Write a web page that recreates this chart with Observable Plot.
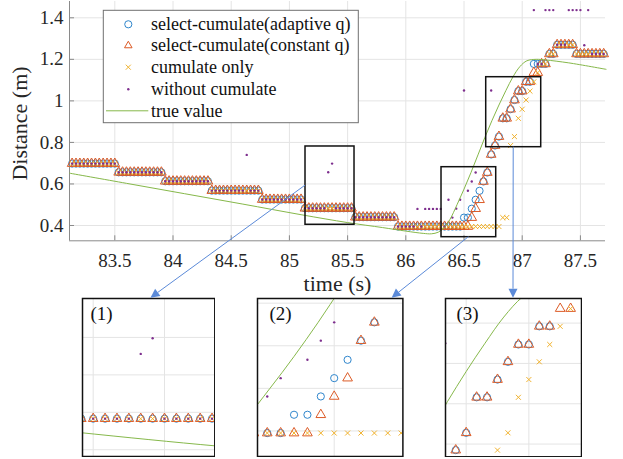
<!DOCTYPE html>
<html><head><meta charset="utf-8">
<script src="https://cdn.jsdelivr.net/npm/d3@7"></script>
<script src="https://cdn.jsdelivr.net/npm/@observablehq/plot@0.6"></script>
<style>
body{margin:0;background:#fff;}
#fig{position:relative;width:623px;height:459px;overflow:hidden;background:#fff;}
#fig svg{position:absolute;}
</style></head><body><div id="fig"></div>
<script>
// ---------------- data ----------------
const startTime = 83.1333;   // time of the first sample (s)
const sampleRate = 30;       // samples per second
// run-length lists: [distance (m), number of consecutive samples]
const adaptiveRuns = [
  [0.698,12],[0.656,12],[0.613,12],[0.568,13],[0.525,11],[0.483,13],[0.44,11],[0.395,17],
  [0.438,2],[0.481,1],[0.524,1],[0.567,1],[0.612,1],[0.655,1],[0.742,1],[0.785,1],[0.828,1],
  [0.916,2],[0.96,1],[1.004,1],[1.047,2],[1.092,2],[1.178,4],[1.226,2],[1.27,5],[1.226,8]
];
const constantRuns = [
  [0.698,12],[0.656,12],[0.613,12],[0.568,13],[0.525,11],[0.483,13],[0.44,11],[0.395,19],
  [0.438,1],[0.481,1],[0.524,1],[0.612,1],[0.655,1],[0.742,1],[0.785,1],[0.828,1],
  [0.916,2],[0.96,1],[1.004,1],[1.047,2],[1.092,2],[1.136,2],[1.178,2],[1.226,2],[1.27,5],[1.226,8]
];
const cumulateRuns = [
  [0.698,12],[0.656,12],[0.613,12],[0.568,13],[0.525,11],[0.483,13],[0.44,11],[0.395,27],
  [0.438,2],[0.785,1],[0.828,1],[0.916,1],[0.96,1],[1.004,1],[1.047,1],[1.092,1],[1.136,1],
  [1.178,2],[1.226,2],[1.27,5],[1.226,8]
];
const withoutRuns = [
  [0.698,12],[0.656,12],[0.613,12],[0.568,9],[0.74,1],[0.568,3],[0.525,11],[0.483,6],[0.656,1],[0.698,1],[0.483,5],[0.44,11],
  [0.395,5],[0.48,1],[0.395,1],[0.48,5],[0.395,1],[0.524,1],[0.438,1],[0.481,1],[0.524,1],[1.05,1],[0.567,1],[0.612,1],[0.655,1],
  [null,3],[1.05,1],[null,10],[1.437,1],[1.178,2],[1.437,3],[1.27,3],[1.437,4],[1.268,1],[1.437,1],[1.226,4]
];
const trueTime = [83.11,83.6,84.1,84.6,85.1,85.5,85.8,86.0,86.15,86.22,86.28,86.33,86.38,86.44,86.5,86.56,86.62,86.68,86.74,86.8,86.86,86.92,86.98,87.04,87.12,87.2,87.4,87.72];
const trueDist = [0.652,0.603,0.553,0.503,0.452,0.414,0.39,0.373,0.362,0.36,0.368,0.39,0.43,0.5,0.575,0.655,0.74,0.825,0.905,0.98,1.05,1.115,1.165,1.193,1.2,1.197,1.183,1.152];

const seriesNames = ["select-cumulate(adaptive q)","select-cumulate(constant q)","cumulate only","without cumulate","true value"];
const xTicks = [83.5,84,84.5,85,85.5,86,86.5,87,87.5];
const yTicks = [0.4,0.6,0.8,1,1.2,1.4];
const xDomain = [83.1108, 87.7155];
const yDomain = [0.3263, 1.4785];

// zoom rectangles on the main chart (time range, distance range)
const zoomT1 = [85.1383, 86.3067, 86.6907];
const zoomT2 = [85.5593, 86.7766, 87.1632];
const zoomV1 = [0.4034, 0.3437, 0.777];
const zoomV2 = [0.7804, 0.6807, 1.114];
// enlarged views
const insetLabels = ["(1)","(2)","(3)"];
const insetTDomains = [[85.170,85.541],[86.409,86.771],[86.734,87.168]];
const insetVDomains = [[0.382,0.804],[0.34,0.711],[0.7685,1.161]];
const insetTGrid = [[85.2,85.4],[86.6],[86.8,87.0]];
const insetVGrid = [[0.4,0.5,0.6,0.7],[0.4,0.5,0.6,0.7],[0.8,0.9,1.0,1.1]];

// ---------------- build ----------------
function expand(runs){
  const out=[]; let i=0;
  for(const [v,n] of runs){ for(let j=0;j<n;j++){ if(v!=null) out.push({t:startTime+i/sampleRate, v}); i++; } }
  return out;
}
const colors = {blue:"#2f86cc", orange:"#dc5a26", yellow:"#f0b22e", purple:"#7e2f8e", green:"#86b84a"};
const series = [
  {data: expand(adaptiveRuns), symbol:"circle", r:3.6, stroke:colors.blue, fill:"none"},
  {data: expand(constantRuns), symbol:"triangle", r:3.6, stroke:colors.orange, fill:"none"},
  {data: expand(cumulateRuns), symbol:"times", r:2.4, stroke:colors.yellow, fill:"none"},
  {data: expand(withoutRuns), symbol:"circle", r:1.2, stroke:"none", fill:colors.purple}
];
const trueData = trueTime.map((t,i)=>({t, v:trueDist[i]}));
const boxes = zoomT1.map((t1,i)=>({t1, t2:zoomT2[i], v1:zoomV1[i], v2:zoomV2[i]}));

const serif = "Liberation Serif";
const gridColor = "#e4e4e4", axisColor = "#8a8a8a", textColor = "#262626";

function seriesMarks(clip){
  const m = series.map(s => Plot.dot(s.data, {x:"t", y:"v", symbol:s.symbol, r:s.r, stroke:s.stroke, fill:s.fill, strokeWidth:1, clip}));
  m.push(Plot.line(trueData, {x:"t", y:"v", stroke:colors.green, strokeWidth:1, curve:"catmull-rom", clip}));
  return m;
}

const W = 623, H = 459, mL = 69, mR = 18, mT = 1, mB = 218.7;
const frameW = W - mL - mR, frameH = H - mT - mB;
const fig = document.getElementById("fig");

const main = Plot.plot({
  width:W, height:H, marginLeft:mL, marginRight:mR, marginTop:mT, marginBottom:mB,
  x:{domain:xDomain, axis:null}, y:{domain:yDomain, axis:null},
  style:{fontFamily:serif, fontSize:"19px", background:"white", color:textColor},
  marks:[
    Plot.ruleX(xTicks, {stroke:gridColor}),
    Plot.ruleY(yTicks, {stroke:gridColor}),
    Plot.ruleY([yDomain[0]], {stroke:axisColor}),
    Plot.ruleX([xDomain[0]], {stroke:axisColor}),
    Plot.ruleX(xTicks, {stroke:axisColor, insetTop:frameH-5}),
    Plot.ruleY(yTicks, {stroke:axisColor, insetRight:frameW-5}),
    Plot.text(xTicks, {x:d=>d, text:d=>String(d), frameAnchor:"bottom", dy:20.4, lineAnchor:"middle", fontSize:19, fontFamily:serif, fill:textColor}),
    Plot.text(yTicks, {y:d=>d, text:d=>String(d), frameAnchor:"left", textAnchor:"end", dx:-6, lineAnchor:"middle", fontSize:19, fontFamily:serif, fill:textColor}),
    ...seriesMarks(false),
    Plot.rect(boxes, {x1:"t1", x2:"t2", y1:"v1", y2:"v2", fill:"none", stroke:"#111", strokeWidth:1.5})
  ]
});
main.style.left="0px"; main.style.top="0px";
fig.appendChild(main);

// inset layout (pixels)
const insetBox = [
  {left:81.7, top:297.7, w:132.3, h:158, labelDx:8, arrowFrac:0.52},
  {left:257.3, top:297.7, w:145.4, h:158, labelDx:12, arrowFrac:0.924},
  {left:445, top:297.7, w:136, h:158.3, labelDx:11, arrowFrac:0.5}
];
insetBox.forEach((b,k)=>{
  const p = Plot.plot({
    width:b.w+2, height:b.h+2, margin:1,
    x:{domain:insetTDomains[k], axis:null}, y:{domain:insetVDomains[k], axis:null},
    style:{fontFamily:serif, background:"white", color:textColor},
    marks:[
      Plot.ruleX(insetTGrid[k], {stroke:gridColor}),
      Plot.ruleY(insetVGrid[k], {stroke:gridColor}),
      ...seriesMarks(true),
      Plot.text([insetLabels[k]], {text:d=>d, frameAnchor:"top-left", textAnchor:"start", lineAnchor:"top", dx:b.labelDx, dy:8.5, fontSize:19, fontFamily:serif, fill:"#111"}),
      Plot.frame({stroke:"#111", strokeWidth:1.5})
    ]
  });
  p.style.left=(b.left-1)+"px"; p.style.top=(b.top-1)+"px";
  fig.appendChild(p);
});

// overlay: axis titles, legend, arrows
const sx = main.scale("x"), sy = main.scale("y");
const svg = d3.select(fig).append("svg").attr("width",W).attr("height",H)
  .style("left","0px").style("top","0px").style("pointer-events","none");

svg.append("text").attr("x",337.5).attr("y",290.5).attr("text-anchor","middle")
  .attr("font-family",serif).attr("font-size",22).attr("fill",textColor).text("time (s)");
svg.append("text").attr("transform","translate(27,123.5) rotate(-90)").attr("text-anchor","middle")
  .attr("font-family",serif).attr("font-size",22).attr("fill",textColor).text("Distance (m)");

// legend
const lg = svg.append("g");
lg.append("rect").attr("x",103.3).attr("y",10.3).attr("width",255).attr("height",112.4)
  .attr("fill","white").attr("stroke","#707070").attr("stroke-width",1);
const rowY = [24.3,45.6,67.2,89.2,110.8];
const symMap = {circle:d3.symbolCircle, triangle:d3.symbolTriangle2, times:d3.symbolTimes};
series.forEach((s,i)=>{
  lg.append("path").attr("transform",`translate(128.3,${rowY[i]})`)
    .attr("d", d3.symbol(symMap[s.symbol], Math.PI*s.r*s.r)())
    .attr("fill",s.fill).attr("stroke",s.stroke).attr("stroke-width",1);
});
lg.append("line").attr("x1",106).attr("x2",148.3).attr("y1",rowY[4]).attr("y2",rowY[4])
  .attr("stroke",colors.green).attr("stroke-width",1);
seriesNames.forEach((n,i)=>{
  lg.append("text").attr("x",151).attr("y",rowY[i]).attr("dy","0.32em")
    .attr("font-family",serif).attr("font-size",18).attr("fill","#111").text(n);
});

// arrows from zoom rectangles to enlarged views
const arrowColor = "#5b8ad8";
const arrowFrom = ["left","bottom","bottom"];
boxes.forEach((bx,k)=>{
  const xa = sx.apply(bx.t1), xb = sx.apply(bx.t2), ya = sy.apply(bx.v2), yb = sy.apply(bx.v1);
  const start = arrowFrom[k]==="left" ? [xa,(ya+yb)/2] : [(xa+xb)/2, yb];
  const ib = insetBox[k];
  const end = [ib.left + ib.arrowFrac*ib.w, ib.top];
  const dx = end[0]-start[0], dy = end[1]-start[1], len = Math.hypot(dx,dy);
  const ux = dx/len, uy = dy/len, hl = 9, hw = 4.5;
  const base = [end[0]-ux*hl, end[1]-uy*hl];
  svg.append("line").attr("x1",start[0]).attr("y1",start[1]).attr("x2",base[0]).attr("y2",base[1])
    .attr("stroke",arrowColor).attr("stroke-width",1);
  svg.append("path").attr("d",`M${end[0]},${end[1]}L${base[0]-uy*hw},${base[1]+ux*hw}L${base[0]+uy*hw},${base[1]-ux*hw}Z`)
    .attr("fill",arrowColor);
});
</script></body></html>
